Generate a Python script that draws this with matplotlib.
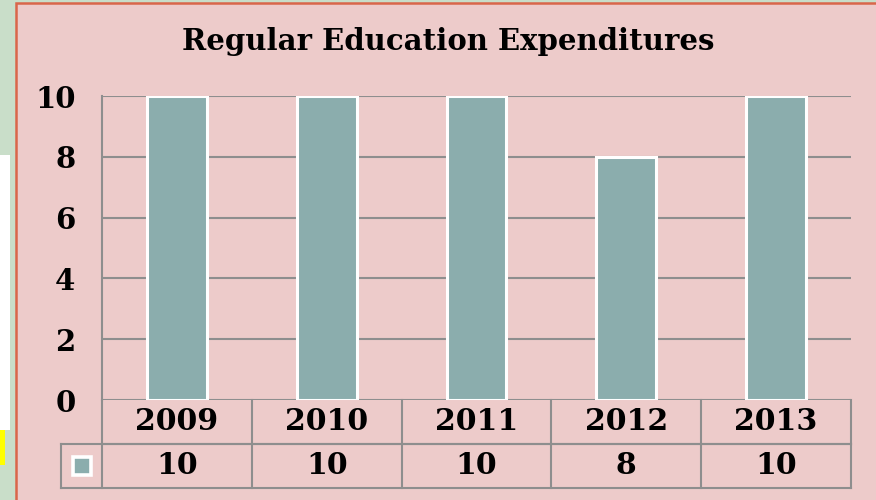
import matplotlib.pyplot as plt
from matplotlib.patches import Rectangle

years = ['2009', '2010', '2011', '2012', '2013']
values = [10, 10, 10, 8, 10]
y_ticks = [0, 2, 4, 6, 8, 10]

bg = '#edcbca'
bar_color = '#8badad'
grid_color = '#8e8e8e'
font = 'DejaVu Serif'

W, H = 876, 500
fig = plt.figure(figsize=(W / 100, H / 100), dpi=100)
fig.patch.set_facecolor('#c9dec9')

# left strip bits (neighbouring worksheet)
fig.patches.append(Rectangle((0, 1 - 465 / H), 5 / W, 35 / H, transform=fig.transFigure,
                             facecolor='#ffff00', edgecolor='none', zorder=-2))
fig.patches.append(Rectangle((0, 1 - 430 / H), 10 / W, 275 / H, transform=fig.transFigure,
                             facecolor='white', edgecolor='none', zorder=-2))
# chart frame
fig.patches.append(Rectangle((16 / W, -0.01), 1.0, 1 - 3 / H + 0.01, transform=fig.transFigure,
                             facecolor=bg, edgecolor='#d9664a', linewidth=1.8, zorder=-1))

ax = fig.add_axes([102 / W, 100 / H, (851 - 102) / W, (400 - 96) / H])
ax.set_facecolor('none')

x = range(len(years))
ax.bar(x, values, width=0.4, color=bar_color, edgecolor='white', linewidth=2.2, zorder=3)

ax.set_xlim(-0.5, len(years) - 0.5)
ax.set_ylim(0, 10)
ax.set_yticks(y_ticks)
ax.set_yticklabels([str(t) for t in y_ticks], fontsize=21, fontweight='bold', family=font)
ax.tick_params(axis='y', length=0, pad=19)
ax.set_xticks([])
ax.grid(axis='y', color=grid_color, linewidth=1.5, zorder=0)
for s in ['top', 'right', 'bottom']:
    ax.spines[s].set_visible(False)
ax.spines['left'].set_color(grid_color)
ax.spines['left'].set_linewidth(1.5)

# data table under the plot
px = 10 / 304.0
r1 = -44 * px
r2 = -88 * px
key_left = -0.5 + (61 - 102) / 150.0
lw = 1.5
ax.plot([-0.5, 4.5], [r1, r1], color=grid_color, lw=lw, clip_on=False)
ax.plot([key_left, 4.5], [r1, r1], color=grid_color, lw=lw, clip_on=False)
ax.plot([key_left, 4.5], [r2, r2], color=grid_color, lw=lw, clip_on=False)
ax.plot([key_left, key_left], [r1, r2], color=grid_color, lw=lw, clip_on=False)
for i in range(len(years) + 1):
    ax.plot([i - 0.5, i - 0.5], [0, r2], color=grid_color, lw=lw, clip_on=False)
for i, (yr, v) in enumerate(zip(years, values)):
    ax.text(i, r1 / 2, yr, ha='center', va='center', fontsize=21.5, fontweight='bold',
            family=font, clip_on=False)
    ax.text(i, (r1 + r2) / 2, str(v), ha='center', va='center', fontsize=21.5,
            fontweight='bold', family=font, clip_on=False)
kx = (key_left - 0.5) / 2
ax.add_patch(Rectangle((kx - 0.06, (r1 + r2) / 2 - 9 * px), 0.12, 18 * px,
                       facecolor=bar_color, edgecolor='white', linewidth=2.6, clip_on=False))

fig.text(448 / W, 1 - 42 / H, 'Regular Education Expenditures', ha='center', va='center',
         fontsize=21, fontweight='bold', family=font)

fig.savefig('out.png', dpi=100, facecolor=fig.get_facecolor())
